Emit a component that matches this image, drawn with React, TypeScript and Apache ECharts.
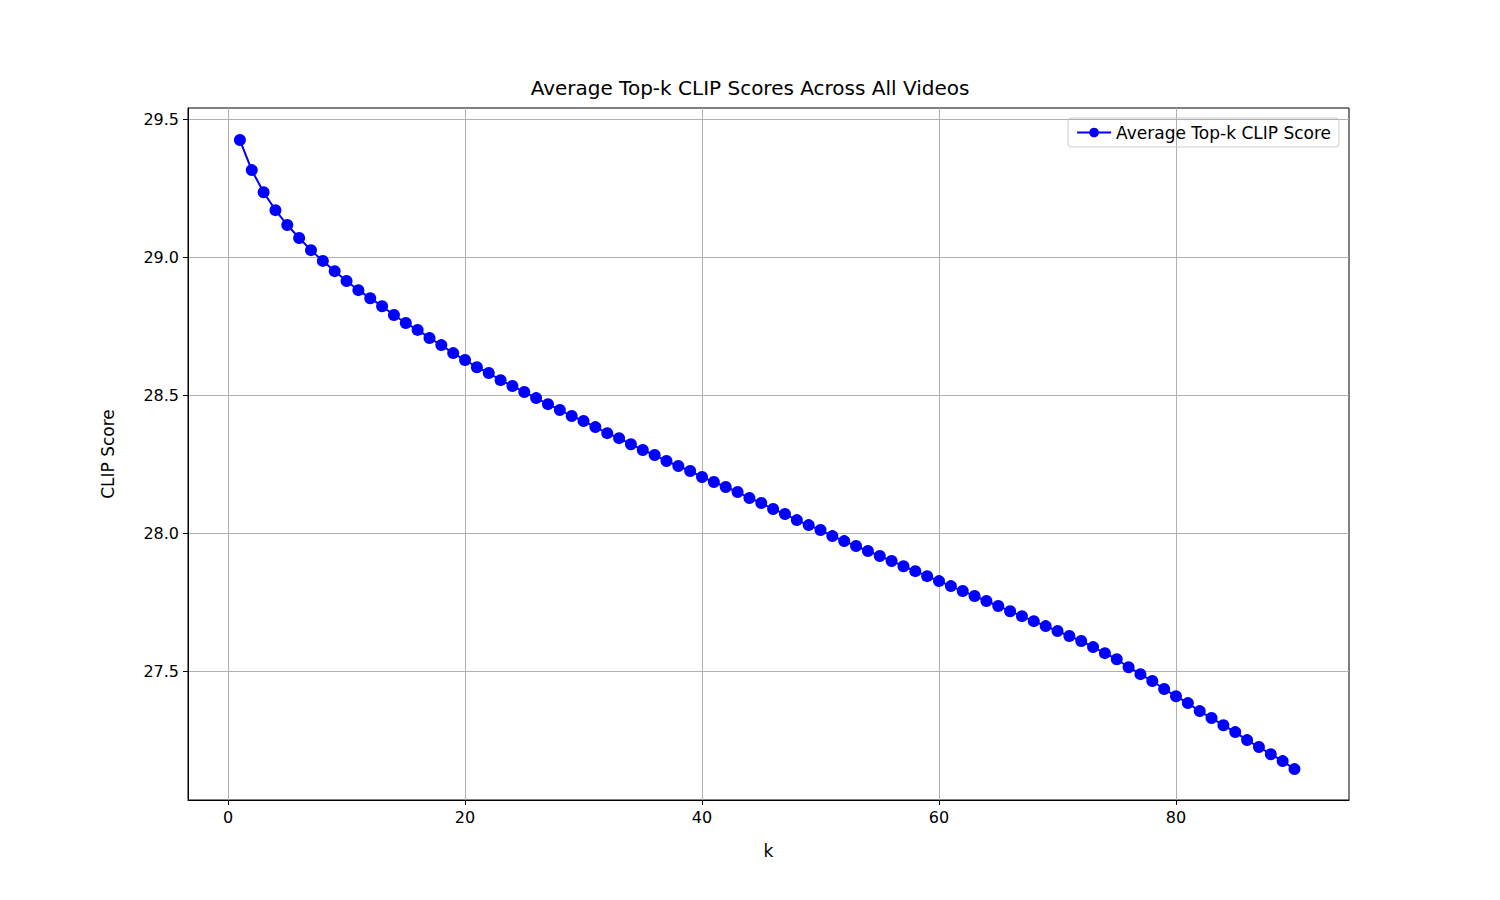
import { useEffect, useRef } from "react";
import * as echarts from "echarts";

const kValues: number[] = Array.from({ length: 90 }, (_, i) => i + 1);
const clipScores: number[] = [
  29.424, 29.315, 29.235, 29.17, 29.116, 29.069, 29.025, 28.986, 28.949, 28.913,
  28.88, 28.851, 28.822, 28.79, 28.761, 28.736, 28.707, 28.681, 28.652, 28.627,
  28.601, 28.58, 28.554, 28.533, 28.511, 28.489, 28.467, 28.446, 28.424, 28.406,
  28.384, 28.362, 28.344, 28.322, 28.301, 28.283, 28.261, 28.243, 28.225, 28.203,
  28.185, 28.167, 28.149, 28.127, 28.109, 28.087, 28.069, 28.047, 28.029, 28.011,
  27.989, 27.971, 27.953, 27.935, 27.917, 27.899, 27.88, 27.862, 27.844, 27.826,
  27.808, 27.79, 27.772, 27.754, 27.736, 27.717, 27.699, 27.681, 27.663, 27.645,
  27.627, 27.609, 27.587, 27.565, 27.543, 27.514, 27.489, 27.464, 27.435, 27.409,
  27.384, 27.355, 27.33, 27.304, 27.279, 27.25, 27.225, 27.199, 27.174, 27.145,
];
const xTicks = [0, 20, 40, 60, 80];
const yTicks = [27.5, 28.0, 28.5, 29.0, 29.5];

const FONT = "DejaVu Sans";

export default function App() {
  const ref = useRef<HTMLDivElement | null>(null);

  useEffect(() => {
    if (!ref.current) return;
    const chart = echarts.init(ref.current, null, { renderer: "svg" });
    chart.setOption({
      animation: false,
      backgroundColor: "#fff",
      textStyle: { fontFamily: FONT },
      title: {
        text: "Average Top-k CLIP Scores Across All Videos",
        left: "center",
        top: 73,
        textStyle: { fontFamily: FONT, fontSize: 20, fontWeight: "normal", color: "#000" },
      },
      legend: {
        right: 161,
        top: 118,
        orient: "vertical",
        borderColor: "#ccc",
        borderWidth: 1,
        borderRadius: 3,
        padding: [6, 8],
        itemWidth: 34,
        itemHeight: 12,
        itemGap: 8,
        textStyle: { fontFamily: FONT, fontSize: 17, color: "#000" },
        data: ["Average Top-k CLIP Score"],
      },
      grid: {
        left: 188, right: 151, top: 108, bottom: 100,
        show: true, borderColor: "#000", borderWidth: 1, backgroundColor: "transparent",
      },
      xAxis: {
        type: "value",
        min: -3.38,
        max: 94.6,
        name: "k",
        nameLocation: "middle",
        nameGap: 42,
        nameTextStyle: { fontFamily: FONT, fontSize: 17, color: "#000" },
        axisLine: { show: true, onZero: false, lineStyle: { color: "#000" } },
        axisTick: { show: true, customValues: xTicks, length: 5, lineStyle: { color: "#000" } },
        axisLabel: { customValues: xTicks, fontFamily: FONT, fontSize: 16, color: "#000", margin: 9 },
        splitLine: { show: true, lineStyle: { color: "#b0b0b0", width: 1 } },
      },
      yAxis: {
        type: "value",
        min: 27.033,
        max: 29.54,
        name: "CLIP Score",
        nameLocation: "middle",
        nameGap: 72,
        nameTextStyle: { fontFamily: FONT, fontSize: 17, color: "#000" },
        axisLine: { show: true, onZero: false, lineStyle: { color: "#000" } },
        axisTick: { show: true, customValues: yTicks, length: 5, lineStyle: { color: "#000" } },
        axisLabel: {
          customValues: yTicks,
          fontFamily: FONT, fontSize: 16, color: "#000", margin: 9,
          formatter: (v: number) => v.toFixed(1),
        },
        splitLine: { show: true, lineStyle: { color: "#b0b0b0", width: 1 } },
      },
      series: [
        {
          name: "Average Top-k CLIP Score",
          type: "line",
          data: kValues.map((k, i) => [k, clipScores[i]]),
          symbol: "circle",
          symbolSize: 12,
          itemStyle: { color: "#0000ff" },
          lineStyle: { color: "#0000ff", width: 2 },
        },
      ],
    });
    return () => chart.dispose();
  }, []);

  return <div ref={ref} style={{ position: "fixed", left: 0, top: 0, width: 1500, height: 900 }} />;
}
